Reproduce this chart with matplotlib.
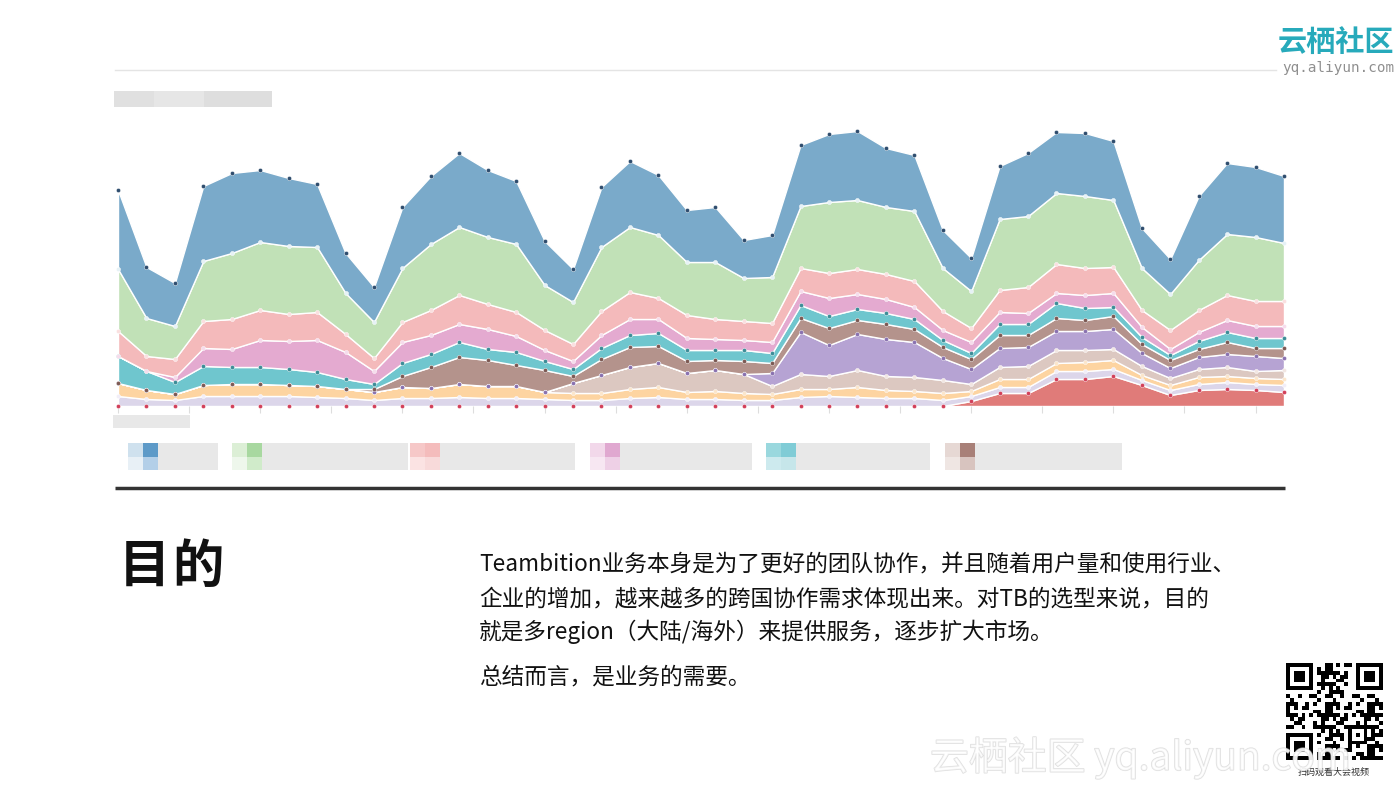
import numpy as np
import matplotlib.pyplot as plt
import matplotlib.patheffects as pe
from matplotlib.patches import Rectangle

plt.rcParams['font.family'] = ['Noto Sans CJK SC', 'DejaVu Sans']

# stacked series, bottom to top
red      = [0,0,0,0,0,0,0,0,0,0,0,0,0,0,0,0,0,0,0,0,0,0,0,0,0,0,0,0,0,0,5,13,13,27,27,30,21,11,16,17,16,14]
lavender = [10,7,6,10,10,10,10,9,8,6,8,8,9,8,8,7,6,6,8,9,7,7,6,6,9,10,9,8,8,6,5,6,6,8,8,7,5,5,6,7,6,7]
orange   = [13,9,6,11,12,12,11,11,9,8,11,10,13,12,12,7,7,7,9,10,7,8,7,6,8,7,10,8,7,7,5,8,8,8,9,9,5,5,7,6,6,6]
beige    = [0,0,0,0,0,0,0,0,0,0,0,0,0,0,0,0,10,18,22,24,19,21,19,8,15,13,17,14,14,13,7,12,13,13,12,11,9,7,8,9,7,9]
purple   = [0,0,0,0,0,0,0,0,0,0,0,0,0,0,0,0,0,0,0,0,0,0,0,13,42,31,36,37,35,22,15,19,19,19,19,20,13,10,12,13,15,12]
brown    = [0,0,0,0,0,0,0,0,0,3,11,21,27,26,21,22,7,16,20,17,12,10,13,10,14,17,14,15,13,11,10,13,12,13,11,13,9,8,8,12,8,10]
teal     = [27,19,12,19,17,17,16,14,10,5,13,13,15,11,13,9,7,11,12,13,11,10,11,10,13,12,11,11,10,7,6,11,11,15,12,9,7,5,8,10,10,10]
pink     = [0,0,5,18,18,27,28,32,27,13,21,19,18,20,16,11,8,13,16,14,12,11,10,11,14,18,15,14,12,10,11,12,11,10,13,14,10,6,9,12,12,12]
salmon   = [25,15,18,27,30,30,27,28,18,13,20,25,29,25,24,20,17,24,27,21,23,20,19,19,23,25,25,25,26,19,14,22,26,29,27,26,17,19,22,25,25,25]
green    = [62,38,33,60,66,68,68,65,41,36,54,66,68,67,68,45,42,64,65,63,53,57,43,46,62,71,69,67,70,43,37,71,71,71,72,67,42,36,50,61,64,58]
blue     = [79,51,43,75,80,72,68,63,40,35,61,68,74,67,63,44,33,60,66,60,52,55,38,42,61,68,69,59,56,38,33,53,63,61,63,59,40,35,64,71,70,67]

layers = [red, lavender, orange, beige, purple, brown, teal, pink, salmon, green, blue]
colors = ['#e07b79', '#dcd6ea', '#fdd4a1', '#dcc8c1', '#b6a3d3', '#b4938c',
          '#6fc6ce', '#e4aad0', '#f4babb', '#c1e1b7', '#7aaaca']
# dot colours on each layer's top edge
dot_colors = ['#d2405a', '#f2eef8', '#fbe6cc', '#f1e6e2', '#8a72b0', '#7d5a54',
              '#3d8d98', '#f6dcec', '#fae0e0', '#e6f2f6', '#2f4d6e']

W, H = 1400, 788
fig = plt.figure(figsize=(14, 7.88), dpi=100)
fig.patch.set_facecolor('white')

# page overlay in pixel coordinates
bg = fig.add_axes([0, 0, 1, 1])
bg.set_xlim(0, W)
bg.set_ylim(H, 0)
bg.axis('off')

# header line and logo
bg.plot([115, 1276], [70, 70], color='#e4e4e4', lw=1)
bg.text(1336, 43, '云栖社区', color='#27aabb', fontsize=21, fontweight='bold',
        ha='center', va='center')
bg.text(1394, 68, 'yq.aliyun.com', color='#8f8f8f', fontsize=10.3,
        family='DejaVu Sans Mono', ha='right', va='center')

# blurred chart title
for x0, w, c in [(114, 40, '#e0e0e0'), (154, 50, '#e6e6e6'), (204, 68, '#dedede')]:
    bg.add_patch(Rectangle((x0, 91), w, 16, color=c, lw=0))
bg.add_patch(Rectangle((113, 415), 77, 13, color='#e8e8e8', lw=0))

# blurred legend
legend_groups = [
    (128, 218, ['#cfe1ee', '#5d9ac8', '#e8f0f6', '#b3cfe8']),
    (232, 408, ['#dcefd6', '#a8d8a0', '#eef7ec', '#d0ebca']),
    (410, 575, ['#f6c8c8', '#f4bcbc', '#fbe3e3', '#f8dada']),
    (590, 752, ['#f2d8ea', '#e0a8d0', '#f7e7f2', '#eed0e6']),
    (766, 930, ['#9ad8de', '#80ccd6', '#cdeaee', '#c6e6ea']),
    (945, 1122, ['#e6d8d4', '#a88078', '#efe6e3', '#d8c4bf']),
]
for x0, x1, sw in legend_groups:
    bg.add_patch(Rectangle((x0, 443), 15, 14, color=sw[0], lw=0))
    bg.add_patch(Rectangle((x0 + 15, 443), 15, 14, color=sw[1], lw=0))
    bg.add_patch(Rectangle((x0, 457), 15, 13, color=sw[2], lw=0))
    bg.add_patch(Rectangle((x0 + 15, 457), 15, 13, color=sw[3], lw=0))
    bg.add_patch(Rectangle((x0 + 30, 443), x1 - x0 - 30, 27, color='#e8e8e8', lw=0))

bg.plot([115, 1285], [488, 488], color='#333333', lw=2.5, solid_capstyle='butt')

# heading and body
bg.text(119, 566, '目', fontsize=37, fontweight='bold', color='#111111',
        ha='left', va='center')
bg.text(172, 566, '的', fontsize=37, fontweight='bold', color='#111111',
        ha='left', va='center')
body = ['Teambition业务本身是为了更好的团队协作，并且随着用户量和使用行业、',
        '企业的增加，越来越多的跨国协作需求体现出来。对TB的选型来说，目的',
        '就是多region（大陆/海外）来提供服务，逐步扩大市场。',
        '总结而言，是业务的需要。']
for line, yy in zip(body, [565, 600, 632, 677]):
    bg.text(479, yy, line, fontsize=16.3, fontweight='medium', color='#111111',
            ha='left', va='center')

# stacked area chart
ax = fig.add_axes([118 / W, (H - 406) / H, 1166 / W, 280 / H])
ax.patch.set_alpha(0)
x = np.arange(len(blue))
ax.stackplot(x, layers, colors=colors, edgecolor='white', linewidth=1.0)
tops = np.cumsum(np.array(layers), axis=0)
for top, dc in zip(tops, dot_colors):
    ax.plot(x, top, 'o', ms=3.0, mfc=dc, mec='#ffffff', mew=0.3, clip_on=False, zorder=4)
ax.set_xlim(0, 41)
ax.set_ylim(0, 280)
ax.set_xticks(np.arange(0, 41.1, 2.5))
ax.set_yticks([])
ax.tick_params(axis='x', length=5, width=0.8, color='#dddddd', labelbottom=False)
for s in ax.spines.values():
    s.set_visible(False)

# QR code (decorative pattern)
n = 25
ii, jj = np.meshgrid(np.arange(n), np.arange(n), indexing='ij')
qr = (((ii * ii * 3 + jj * jj * 5 + ii * jj * 7 + ii + 2 * jj) % 11) < 5).astype(float)
for r0, c0 in [(0, 0), (0, n - 7), (n - 7, 0)]:
    qr[max(r0 - 1, 0):r0 + 8, max(c0 - 1, 0):c0 + 8] = 0
    qr[r0:r0 + 7, c0:c0 + 7] = 1
    qr[r0 + 1:r0 + 6, c0 + 1:c0 + 6] = 0
    qr[r0 + 2:r0 + 5, c0 + 2:c0 + 5] = 1
qr[16:21, 16:21] = 1
qr[17:20, 17:20] = 0
qr[18, 18] = 1
qax = fig.add_axes([1285 / W, (H - 760) / H, 98 / W, 97 / H])
qax.imshow(qr, cmap='Greys', interpolation='nearest', vmin=0, vmax=1)
qax.axis('off')
fig.text(1334 / W, 1 - 772 / H, '扫码观看大会视频', fontsize=6.5, color='#333333',
         ha='center', va='center')

# watermark
fig.text(930 / W, 1 - 758 / H, '云栖社区 yq.aliyun.com', fontsize=28, color='white',
         alpha=0.7, ha='left', va='center',
         path_effects=[pe.withStroke(linewidth=1.1, foreground='#d2d2d2')])

fig.savefig('out.png', dpi=100, facecolor='white')
